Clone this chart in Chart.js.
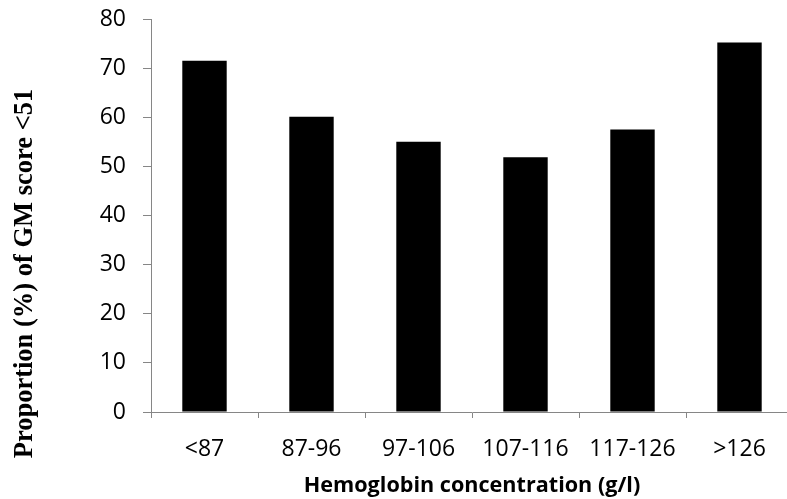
<!DOCTYPE html>
<html>
<head>
<meta charset="utf-8">
<script src="https://cdn.jsdelivr.net/npm/chart.js@4"></script>
<style>
  html, body { margin: 0; padding: 0; background: #fff; overflow: hidden; }
  #wrap { width: 793px; height: 499px; position: relative; }
</style>
</head>
<body>
<div id="wrap"><canvas id="c"></canvas></div>
<script>
const categories = ['<87', '87-96', '97-106', '107-116', '117-126', '>126'];
const proportions = [71.6, 60.2, 55.1, 51.9, 57.6, 75.3];
const yTicks = [0, 10, 20, 30, 40, 50, 60, 70, 80];
const xTitle = 'Hemoglobin concentration (g/l)';
const yTitle = 'Proportion (%) of GM score <51';

const axisGrey = '#868686';

const yTitlePlugin = {
  id: 'yTitlePlugin',
  afterDraw(chart) {
    const ctx = chart.ctx;
    ctx.save();
    ctx.translate(31.5, 273.5);
    ctx.rotate(-Math.PI / 2);
    ctx.font = 'bold 26.5px "Liberation Serif"';
    ctx.fillStyle = '#000';
    ctx.textAlign = 'center';
    ctx.textBaseline = 'alphabetic';
    ctx.fillText(yTitle, 0, 0);
    ctx.restore();
  }
};

new Chart(document.getElementById('c'), {
  type: 'bar',
  data: {
    labels: categories,
    datasets: [{
      data: proportions,
      backgroundColor: '#000',
      borderWidth: 0,
      barPercentage: 0.415,
      categoryPercentage: 1
    }]
  },
  options: {
    responsive: true,
    maintainAspectRatio: false,
    animation: false,
    layout: { padding: { top: 19.5, right: 0, bottom: 0, left: 0 } },
    plugins: { legend: { display: false }, tooltip: { enabled: false } },
    scales: {
      x: {
        grid: { display: true, drawOnChartArea: false, drawTicks: true, tickLength: 6, color: axisGrey, offset: true },
        border: { display: true, color: axisGrey, width: 1 },
        ticks: { color: '#000', font: { family: '"Open Sans"', size: 23 }, padding: 18, maxRotation: 0, autoSkip: false },
        title: { display: true, text: xTitle, color: '#000', font: { family: '"Open Sans"', size: 21.6, weight: 'bold' }, padding: { top: 0, bottom: 0.5 } },
        afterFit(scale) { scale.height = 87; scale.paddingLeft = 0; scale.paddingRight = 0; }
      },
      y: {
        min: 0, max: 80,
        afterBuildTicks(scale) { scale.ticks = yTicks.map(v => ({ value: v })); },
        grid: { display: true, drawOnChartArea: false, drawTicks: true, tickLength: 8, color: axisGrey },
        border: { display: true, color: axisGrey, width: 1 },
        ticks: { color: '#000', font: { family: '"Open Sans"', size: 23 }, padding: 17 },
        afterFit(scale) { scale.width = 151; scale.paddingTop = 0; scale.paddingBottom = 0; }
      }
    }
  },
  plugins: [yTitlePlugin]
});
</script>
</body>
</html>
